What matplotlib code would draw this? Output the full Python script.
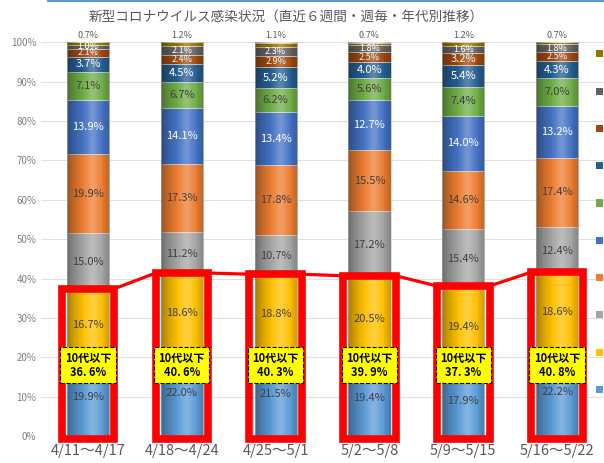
import numpy as np
import matplotlib
matplotlib.use("Agg")
import matplotlib.pyplot as plt
from matplotlib.patches import Rectangle, Patch
from matplotlib.lines import Line2D

plt.rcParams['font.family'] = ['Noto Sans CJK JP', 'DejaVu Sans']

weeks = ['4/11～4/17', '4/18～4/24', '4/25～5/1', '5/2～5/8', '5/9～5/15', '5/16～5/22']
ages = ['10歳未満', '10代', '20代', '30代', '40代', '50代', '60代', '70代', '80代', '90代以上']

# share (%) per age group, bottom to top, one list per week
w1 = [19.9, 16.7, 15.0, 19.9, 13.9, 7.1, 3.7, 2.1, 1.0, 0.7]
w2 = [22.0, 18.6, 11.2, 17.3, 14.1, 6.7, 4.5, 2.4, 2.1, 1.2]
w3 = [21.5, 18.8, 10.7, 17.8, 13.4, 6.2, 5.2, 2.9, 2.3, 1.1]
w4 = [19.4, 20.5, 17.2, 15.5, 12.7, 5.6, 4.0, 2.5, 1.8, 0.7]
w5 = [17.9, 19.4, 15.4, 14.6, 14.0, 7.4, 5.4, 3.2, 1.6, 1.2]
w6 = [22.2, 18.6, 12.4, 17.4, 13.2, 7.0, 4.3, 2.5, 1.8, 0.7]
teen_total = [36.6, 40.6, 40.3, 39.9, 37.3, 40.8]  # 10代以下

data = np.array([w1, w2, w3, w4, w5, w6]).T

colors = ['#5B9BD5', '#FFC000', '#A5A5A5', '#ED7D31', '#4472C4',
          '#70AD47', '#255E91', '#9E480E', '#636363', '#997300']
txt_colors = ['#404040', '#404040', '#404040', '#404040', 'white',
              '#404040', 'white', '#F2F2F2', 'white', '#595959']

fig = plt.figure(figsize=(6.04, 4.63), dpi=100)
ax = fig.add_axes([0.068, 0.058, 0.932, 0.851])

x = np.arange(len(weeks))
bw = 0.45
bottom = np.zeros(len(weeks))
for k in range(len(ages)):
    ax.bar(x, data[k], bw, bottom=bottom, color=colors[k], label=ages[k],
           edgecolor='#E8E8E8', linewidth=0.4, zorder=2)
    for i in range(len(weeks)):
        v = data[k][i]
        if k == len(ages) - 1:
            ax.text(x[i], 100.6, f'{v:.1f}%', ha='center', va='bottom',
                    fontsize=6.5, color=txt_colors[k], zorder=5)
        else:
            fs = 8 if v >= 3 else 6.5
            ax.text(x[i], bottom[i] + v / 2, f'{v:.1f}%', ha='center', va='center',
                    fontsize=fs, color=txt_colors[k], zorder=5)
    bottom += data[k]

# cylinder-like shading over each bar
grad = np.linspace(0, 1, 64)
shade = np.zeros((1, 64, 4))
dark = np.clip(1 - grad / 0.45, 0, 1) ** 1.5 * 0.35 + np.clip((grad - 0.8) / 0.2, 0, 1) * 0.2
light = np.exp(-((grad - 0.6) / 0.15) ** 2) * 0.25
shade[0, :, 0:3] = np.where(light[:, None] > dark[:, None], 1.0, 0.0)
shade[0, :, 3] = np.maximum(dark, light)
for i in range(len(weeks)):
    ax.imshow(shade, extent=(x[i] - bw / 2, x[i] + bw / 2, 0, bottom[i]),
              aspect='auto', zorder=3, interpolation='bilinear')

# red frames around the under-20 part and the connecting line
hw = 0.28
pad = 0.8
for i in range(len(weeks)):
    ax.add_patch(Rectangle((x[i] - hw, -pad), 2 * hw, teen_total[i] + 2 * pad,
                           fill=False, edgecolor='#FF0000', linewidth=5.5,
                           clip_on=False, zorder=6))
for i in range(len(weeks) - 1):
    ax.plot([x[i] + hw, x[i + 1] - hw], [teen_total[i] + pad, teen_total[i + 1] + pad],
            color='#FF0000', linewidth=2.3, zorder=6, clip_on=False,
            solid_capstyle='butt')

for i in range(len(weeks)):
    s = f'{teen_total[i]:.1f}'.replace('.', '. ')
    ax.text(x[i], 18, f'10代以下\n{s}%', ha='center', va='center', fontsize=8,
            fontweight='bold', color='black', linespacing=1.15, zorder=8,
            bbox=dict(boxstyle='square,pad=0.4', facecolor='#FFFF00',
                      edgecolor='black', linestyle='--', linewidth=0.8))

ax.set_xlim(-0.5, 5.5)
ax.set_ylim(0, 100)
ax.set_yticks(np.arange(0, 101, 10))
ax.set_yticklabels([f'{t}%' for t in range(0, 101, 10)], fontsize=7, color='#808080')
ax.set_xticks(x)
ax.set_xticklabels(weeks, fontsize=10.5, color='#595959')
ax.tick_params(length=0)
ax.tick_params(axis='x', pad=6)
ax.grid(axis='y', color='#E0E0E0', linewidth=0.8, zorder=0)
ax.set_axisbelow(True)
for sp in ax.spines.values():
    sp.set_visible(False)

handles = [Patch(facecolor=c) for c in colors][::-1]
fig.legend(handles, ages[::-1], loc='upper left', bbox_to_anchor=(0.98, 0.902),
           frameon=False, fontsize=8, handlelength=0.6, handleheight=0.6,
           handletextpad=0.6, labelspacing=2.45, borderaxespad=0)

fig.text(0.474, 0.965, '新型コロナウイルス感染状況（直近６週間・週毎・年代別推移）',
         ha='center', va='center', fontsize=9.8, color='#595959')
fig.add_artist(Line2D([0.08, 1.0], [0.998, 0.998], color='#5B9BD5', linewidth=1.5))

fig.savefig('out.png', dpi=100)
